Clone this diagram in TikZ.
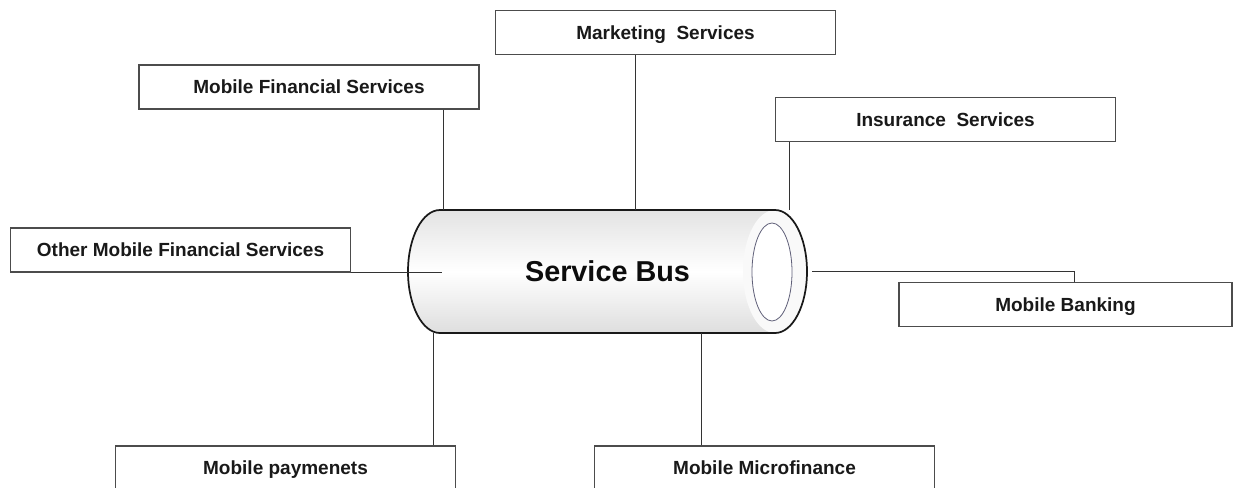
\documentclass[tikz,border=0pt]{standalone}
\usepackage{fontspec}
\setmainfont{Liberation Sans}
\definecolor{rimblue}{RGB}{95,95,120}
\begin{document}
\begin{tikzpicture}[x=0.75pt,y=-0.75pt,
  svcbox/.style={draw=black!70, line width=0.9pt, fill=white, minimum width=255pt,
    minimum height=33pt, inner sep=0pt, text height=10.2pt, text depth=0pt,
    font=\bfseries\fontsize{14.25}{16}\selectfont, text=black!90},
  link/.style={draw=black!80, line width=0.75pt},
  buslabel/.style={font=\bfseries\fontsize{21.6}{24}\selectfont, text=black!95}]
\useasboundingbox (0,0) rectangle (1233,487);
\clip (0,0) rectangle (1233,487);

% cylinder body
\path[top color=gray!22, bottom color=gray!26, middle color=white]
  (440,210) -- (775,210) arc[start angle=90, end angle=-90, x radius=24pt, y radius=46.125pt]
  -- (440,333) arc[start angle=270, end angle=90, x radius=24pt, y radius=46.125pt] -- cycle;
% end cap rim
\fill[gray!5] (775,271.5) ellipse[x radius=24pt, y radius=46.125pt];
\draw[line width=1.3pt, black!90]
  (440,210) -- (775,210) arc[start angle=90, end angle=-90, x radius=24pt, y radius=46.125pt]
  -- (440,333) arc[start angle=270, end angle=90, x radius=24pt, y radius=46.125pt] -- cycle;
% inner opening
\draw[fill=white, draw=rimblue, line width=0.6pt] (772,272) ellipse[x radius=15pt, y radius=36.75pt];

\node[minimum width=299.25pt, minimum height=92.25pt, inner sep=0pt, buslabel] (bus) at (607.5,271.5) {Service Bus};

% service boxes
\node[svcbox] (mfs) at (309,87) {Mobile Financial Services};
\node[svcbox] (mkt) at (665.5,32.5) {Marketing\ \ Services};
\node[svcbox] (ins) at (945.5,119.5) {Insurance\ \ Services};
\node[svcbox] (omfs) at (180.5,250) {Other Mobile Financial Services};
\node[svcbox, minimum width=249.75pt] (mb) at (1065.5,304.5) {Mobile Banking};
\node[svcbox, minimum height=32.25pt] (mp) at (285.5,467.5) {Mobile paymenets};
\node[svcbox, minimum height=32.25pt] (mmf) at (764.5,467.5) {Mobile Microfinance};

% connectors
\draw[link] ([xshift=-27pt]mfs.south east) -- ([xshift=-27pt]mfs.south east |- bus.north);
\draw[link] ([xshift=-22.875pt]mkt.south) -- ([xshift=-22.875pt]mkt.south |- bus.north);
\draw[link] ([xshift=11.25pt]ins.south west) -- ([xshift=11.25pt]ins.south west |- bus.north);
\draw[link] (omfs.south east) -- ([xshift=25.5pt]bus.west |- omfs.south east);
\draw[link] ([xshift=3.75pt]bus.east) -| ([xshift=6.375pt]mb.north);
\draw[link] ([xshift=-17.25pt]mp.north east) -- ([xshift=-17.25pt]mp.north east |- bus.south);
\draw[link] ([xshift=-47.625pt]mmf.north) -- ([xshift=-47.625pt]mmf.north |- bus.south);
\end{tikzpicture}
\end{document}
